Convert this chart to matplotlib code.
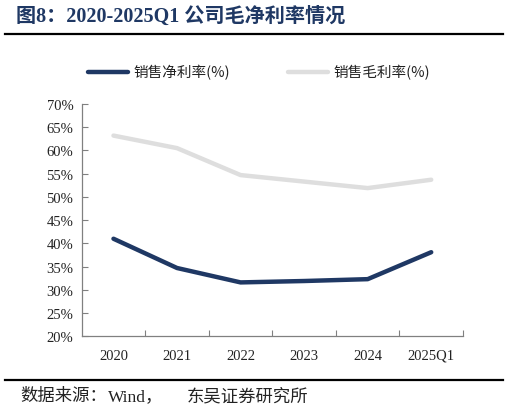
import matplotlib
matplotlib.use("Agg")
import matplotlib.pyplot as plt
from matplotlib.lines import Line2D
from matplotlib.ticker import FuncFormatter, MultipleLocator

categories = ["2020", "2021", "2022", "2023", "2024", "2025Q1"]
net_margin = [41.0, 34.7, 31.6, 31.9, 32.3, 38.1]
gross_margin = [63.2, 60.5, 54.7, 53.3, 51.9, 53.7]
net_label = "销售净利率(%)"
gross_label = "销售毛利率(%)"
title = "图8：2020-2025Q1 公司毛净利率情况"
source_parts = ["数据来源：", "Wind，", "东吴证券研究所"]

FAM = ["Liberation Serif", "Noto Sans CJK SC", "DejaVu Sans"]
plt.rcParams["font.family"] = FAM

W, H = 509, 414
fig = plt.figure(figsize=(W / 100, H / 100), dpi=100)
ax = fig.add_axes([81.7 / W, 1 - 337.3 / H, (463 - 81.7) / W, (337.3 - 105) / H])

x = list(range(len(categories)))
navy = "#1F3864"
gray = "#DEDEDE"
ax.plot(x, gross_margin, color=gray, lw=3.2, solid_capstyle="round", label=gross_label)
ax.plot(x, net_margin, color=navy, lw=3.2, solid_capstyle="round", label=net_label)

ax.set_xlim(-0.5, len(categories) - 0.5)
ax.set_ylim(20, 70)
ax.yaxis.set_major_locator(MultipleLocator(5))
ax.yaxis.set_major_formatter(FuncFormatter(lambda v, p: f"{v:.0f}%"))
ax.set_xticks([i + 0.5 for i in x], minor=False)
ax.set_xticklabels([])
ax.set_xticks(x, minor=True)
ax.set_xticklabels(categories, minor=True)
ax.tick_params(axis="x", which="major", direction="in", length=4, color="#808080")
ax.tick_params(axis="x", which="minor", length=0, pad=9, labelsize=10.5, labelcolor="#222222")
ax.tick_params(axis="y", direction="in", length=4, color="#808080", labelsize=10.5,
               labelcolor="#222222", pad=6)
for s in ["top", "right"]:
    ax.spines[s].set_visible(False)
for s in ["left", "bottom"]:
    ax.spines[s].set_color("#808080")
    ax.spines[s].set_linewidth(0.9)

# Legend (manual layout)
LFAM = ["Noto Sans CJK SC", "Liberation Serif"]
fig.add_artist(Line2D([88 / W, 128 / W], [1 - 73 / H, 1 - 73 / H], color=navy, lw=3.2,
                      solid_capstyle="round"))
fig.text(133 / W, 1 - 73 / H, net_label, fontsize=10.5, va="center", ha="left",
         family=LFAM, color="#222222")
fig.add_artist(Line2D([288 / W, 328 / W], [1 - 73 / H, 1 - 73 / H], color=gray, lw=3.2,
                      solid_capstyle="round"))
fig.text(333 / W, 1 - 73 / H, gross_label, fontsize=10.5, va="center", ha="left",
         family=LFAM, color="#222222")

# Title and rules
fig.text(16 / W, 1 - 17 / H, title, fontsize=14.5, fontweight="bold", va="center", ha="left",
         color=navy, family=["Liberation Serif", "Noto Sans CJK SC"])
fig.add_artist(Line2D([5 / W, 503 / W], [1 - 34.5 / H, 1 - 34.5 / H], color="black", lw=1.6))
fig.add_artist(Line2D([5 / W, 503 / W], [1 - 380.5 / H, 1 - 380.5 / H], color="black", lw=1.6))

# Source line: pieces laid out left to right with the reference's wide gaps
renderer = fig.canvas.get_renderer()
src_min_x = [20, 100, 187]
cur = 0
for px, part in zip(src_min_x, source_parts):
    start = max(px, cur + 1)
    t = fig.text(start / W, 1 - 397 / H, part, fontsize=12.5, va="center", ha="left",
                 color="#222222", family=["Liberation Serif", "Noto Sans CJK SC"])
    cur = t.get_window_extent(renderer=renderer).x1

fig.savefig("out.png", dpi=100)
